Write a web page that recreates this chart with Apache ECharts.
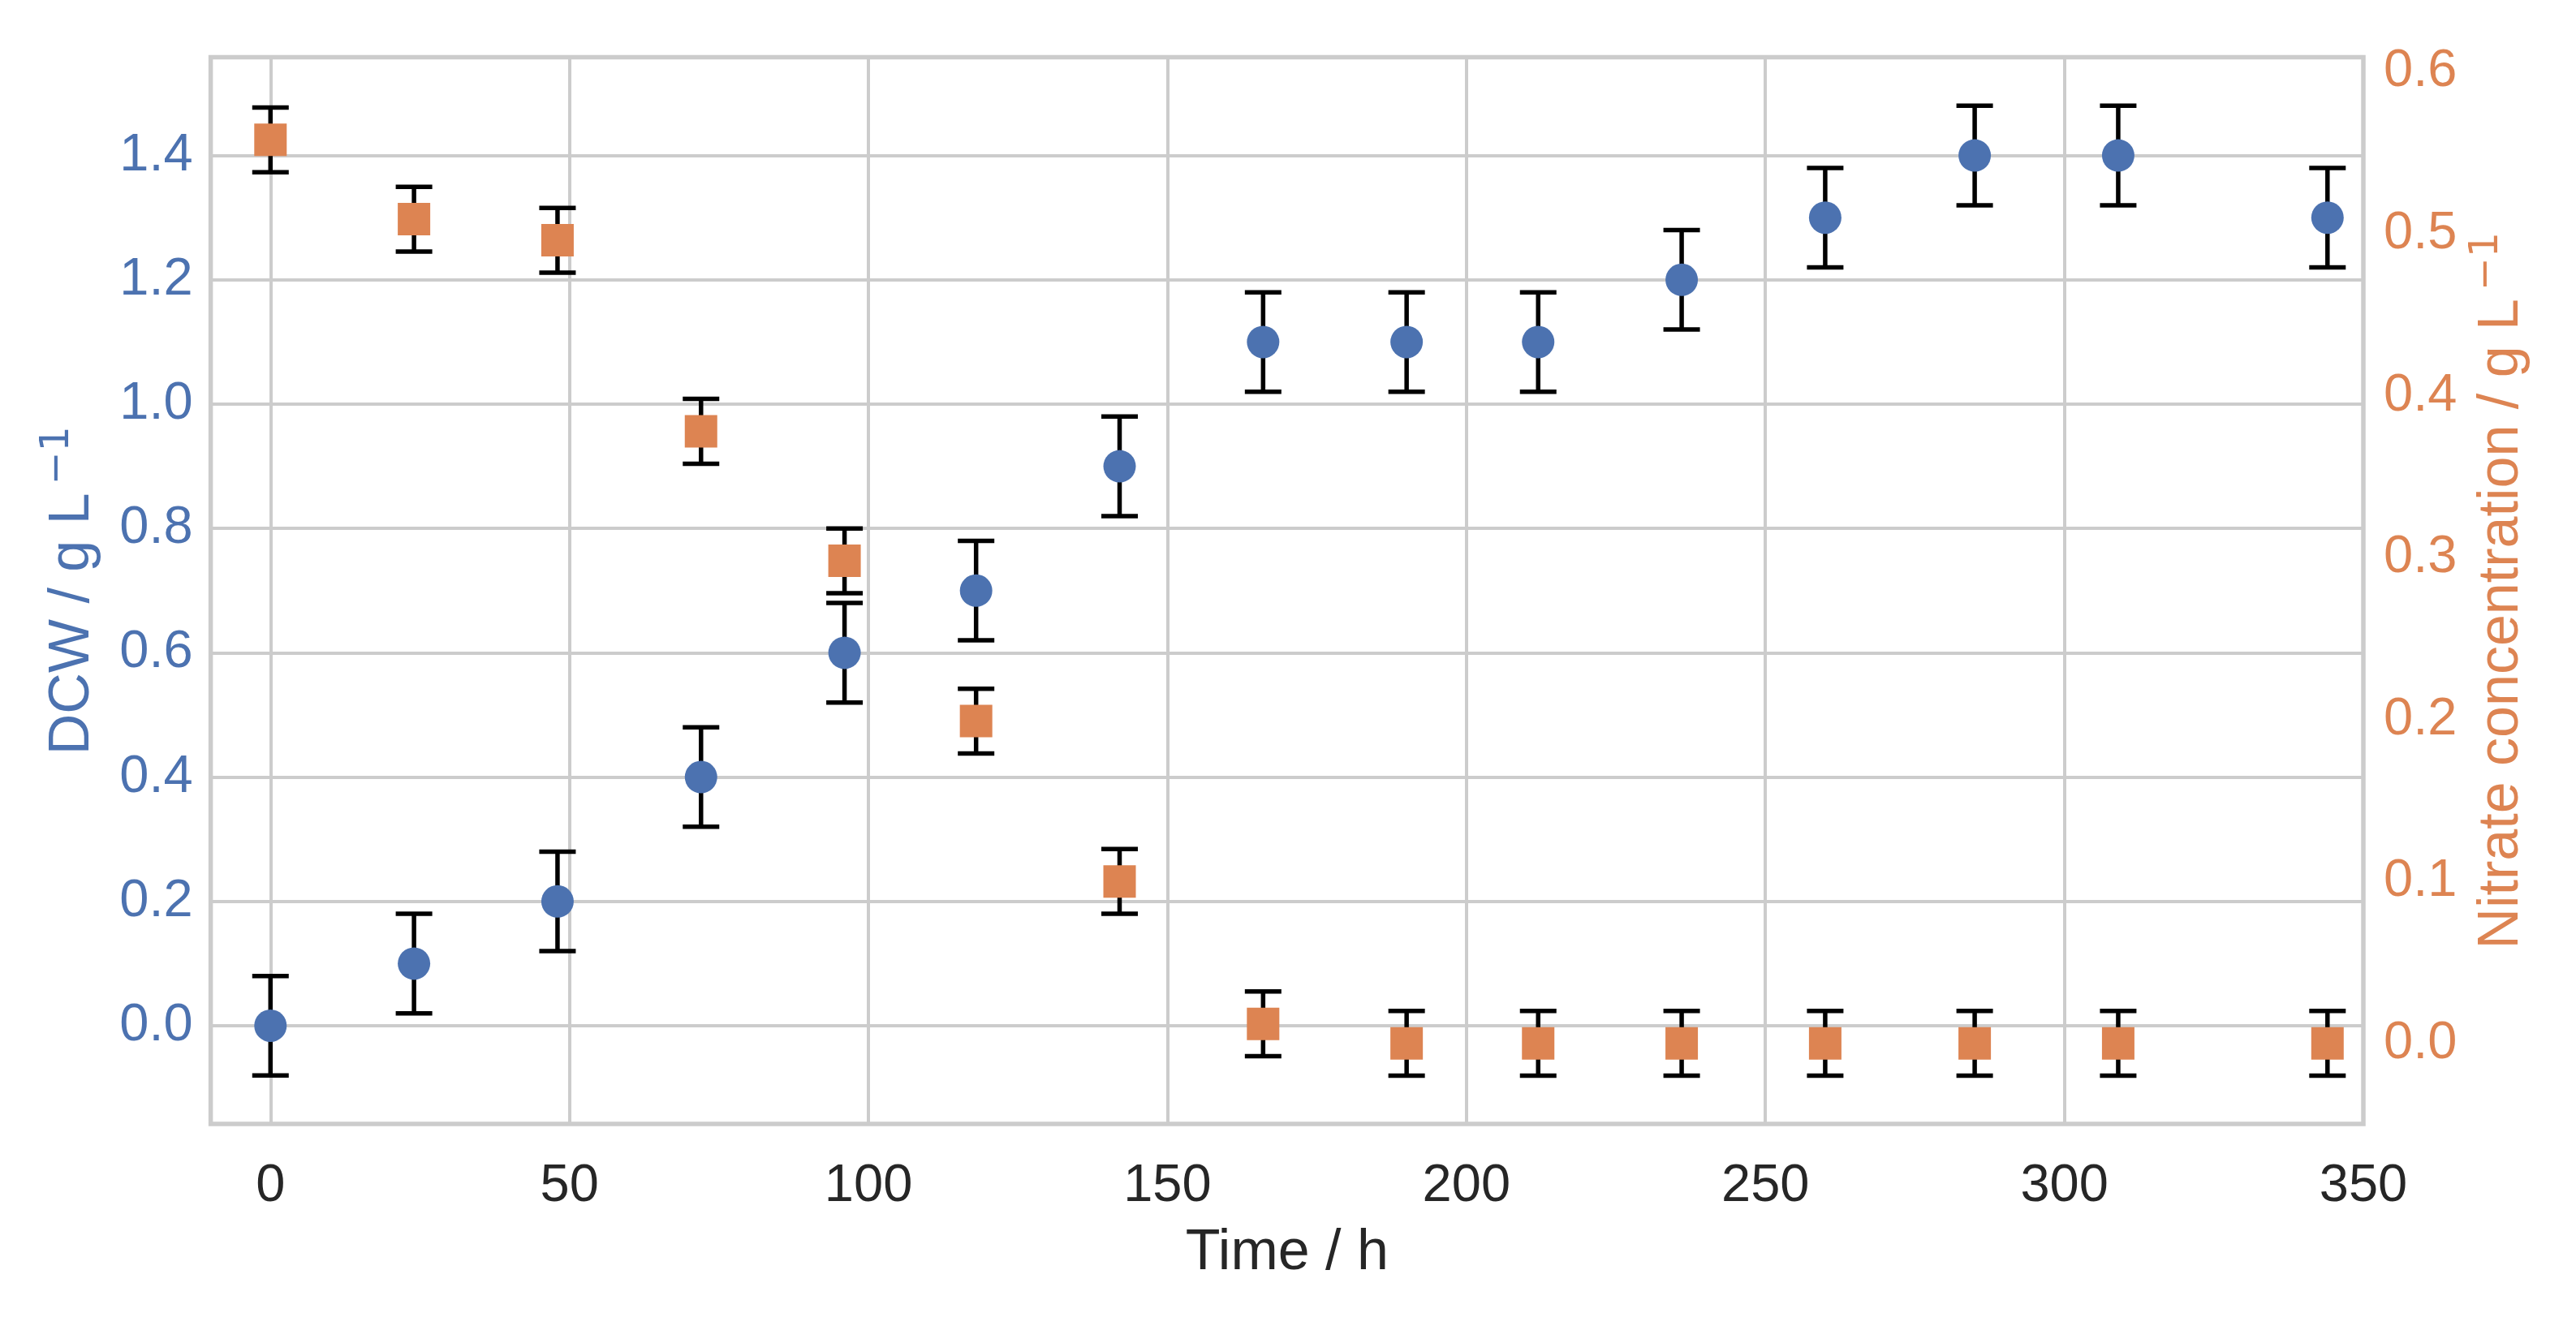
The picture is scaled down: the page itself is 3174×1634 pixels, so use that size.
<!DOCTYPE html>
<html>
<head>
<meta charset="utf-8">
<script src="https://cdn.jsdelivr.net/npm/echarts@6/dist/echarts.min.js"></script>
<style>
html,body{margin:0;padding:0;background:#fff;}
#chart{width:3174px;height:1634px;}
</style>
</head>
<body>
<div id="chart"></div>
<script>
// ---- data ----
const timeH = [0, 24, 48, 72, 96, 118, 142, 166, 190, 212, 236, 260, 285, 309, 344];
const dcw = [0, 0.1, 0.2, 0.4, 0.6, 0.7, 0.9, 1.1, 1.1, 1.1, 1.2, 1.3, 1.4, 1.4, 1.3];
const dcwErr = [0.08, 0.08, 0.08, 0.08, 0.08, 0.08, 0.08, 0.08, 0.08, 0.08, 0.08, 0.08, 0.08, 0.08, 0.08];
const nitrate = [0.558, 0.509, 0.496, 0.378, 0.298, 0.199, 0.10, 0.012, 0, 0, 0, 0, 0, 0, 0];
const nitrateErr = [0.02, 0.02, 0.02, 0.02, 0.02, 0.02, 0.02, 0.02, 0.02, 0.02, 0.02, 0.02, 0.02, 0.02, 0.02];

const BLUE = '#4C72B0', ORANGE = '#DD8452', DARK = '#262626', GRID = '#cccccc';
const FONT = "'Liberation Sans', Arial, sans-serif";
const SUPFONT = "'DejaVu Sans', sans-serif";

const dcwPts = timeH.map((t, i) => [t, dcw[i]]);
const dcwBars = timeH.map((t, i) => [t, dcw[i] - dcwErr[i], dcw[i] + dcwErr[i]]);
const nitPts = timeH.map((t, i) => [t, nitrate[i]]);
const nitBars = timeH.map((t, i) => [t, nitrate[i] - nitrateErr[i], nitrate[i] + nitrateErr[i]]);

function errRender(params, api) {
  const x = api.value(0), lo = api.value(1), hi = api.value(2);
  const pLo = api.coord([x, lo]), pHi = api.coord([x, hi]);
  const half = 22.5;
  const st = { stroke: '#000', lineWidth: 5.5, fill: null };
  return {
    type: 'group',
    children: [
      { type: 'line', shape: { x1: pLo[0], y1: pLo[1], x2: pHi[0], y2: pHi[1] }, style: st },
      { type: 'line', shape: { x1: pLo[0] - half, y1: pLo[1], x2: pLo[0] + half, y2: pLo[1] }, style: st },
      { type: 'line', shape: { x1: pHi[0] - half, y1: pHi[1], x2: pHi[0] + half, y2: pHi[1] }, style: st }
    ]
  };
}

const chart = echarts.init(document.getElementById('chart'), null, { renderer: 'canvas' });
chart.setOption({
  backgroundColor: '#ffffff',
  animation: false,
  grid: {
    left: 259.6, right: 262, top: 70.6, bottom: 249,
    containLabel: false, outerBoundsMode: 'none',
    show: true, borderColor: GRID, borderWidth: 5.5, backgroundColor: 'transparent'
  },
  xAxis: {
    type: 'value', min: -10, max: 350, splitNumber: 7,
    axisLine: { show: false }, axisTick: { show: false },
    splitLine: { show: true, lineStyle: { color: GRID, width: 4 } },
    axisLabel: { show: true, showMinLabel: false, showMaxLabel: true, margin: 45, fontSize: 65, fontFamily: FONT, color: DARK,
      formatter: v => (v < 0 ? '' : String(v)) },
    name: 'Time / h', nameLocation: 'middle', nameGap: 125,
    nameTextStyle: { fontSize: 70, fontFamily: FONT, color: DARK }
  },
  yAxis: [
    {
      type: 'value', min: -0.158, max: 1.558, splitNumber: 8, position: 'left',
      axisLine: { show: false }, axisTick: { show: false },
      splitLine: { show: true, lineStyle: { color: GRID, width: 4 } },
      axisLabel: { showMinLabel: false, showMaxLabel: false, margin: 22, fontSize: 65, fontFamily: FONT, color: BLUE,
        formatter: v => v.toFixed(1) },
      name: '{a|DCW / g L}{s|\u2009−1}', nameLocation: 'middle', nameGap: 127,
      nameTextStyle: {
        color: BLUE, fontFamily: FONT, fontSize: 70,
        rich: {
          a: { fontSize: 70, fontFamily: FONT, color: BLUE, lineHeight: 86 },
          s: { fontSize: 49, fontFamily: SUPFONT, color: BLUE, lineHeight: 49, verticalAlign: 'top' }
        }
      }
    },
    {
      type: 'value', min: -0.0498, max: 0.609, splitNumber: 6, position: 'right',
      axisLine: { show: false }, axisTick: { show: false },
      splitLine: { show: false },
      axisLabel: { showMinLabel: false, showMaxLabel: false, margin: 25, fontSize: 65, fontFamily: FONT, color: ORANGE,
        formatter: v => v.toFixed(1) },
      name: '{a|Nitrate concentration / g L}{s|\u2009−1}', nameLocation: 'middle', nameGap: 128, nameRotate: 90,
      nameTextStyle: {
        color: ORANGE, fontFamily: FONT, fontSize: 70,
        rich: {
          a: { fontSize: 70, fontFamily: FONT, color: ORANGE, lineHeight: 86 },
          s: { fontSize: 49, fontFamily: SUPFONT, color: ORANGE, lineHeight: 49, verticalAlign: 'top' }
        }
      }
    }
  ],
  series: [
    { type: 'custom', name: 'DCW err', yAxisIndex: 0, data: dcwBars, renderItem: errRender, z: 2, silent: true },
    { type: 'scatter', name: 'DCW', yAxisIndex: 0, data: dcwPts, symbol: 'circle', symbolSize: 40,
      itemStyle: { color: BLUE, opacity: 1 }, z: 3 },
    { type: 'custom', name: 'Nitrate err', yAxisIndex: 1, data: nitBars, renderItem: errRender, z: 4, silent: true },
    { type: 'scatter', name: 'Nitrate', yAxisIndex: 1, data: nitPts, symbol: 'rect', symbolSize: 40,
      itemStyle: { color: ORANGE, opacity: 1 }, z: 5 }
  ]
});
</script>
</body>
</html>
